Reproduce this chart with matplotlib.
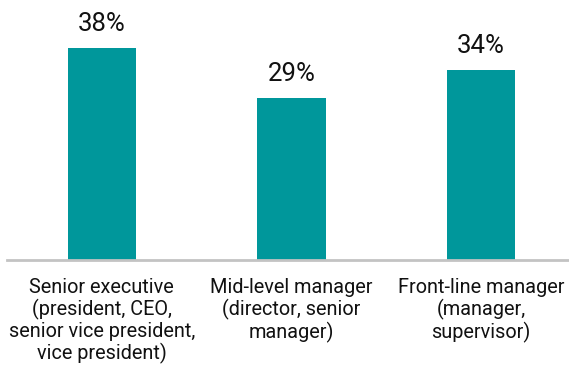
import matplotlib.pyplot as plt

categories = [
    "Senior executive\n(president, CEO,\nsenior vice president,\nvice president)",
    "Mid-level manager\n(director, senior\nmanager)",
    "Front-line manager\n(manager,\nsupervisor)",
]
values = [38, 29, 34]

plt.rcParams['font.family'] = ['Roboto', 'DejaVu Sans']

fig = plt.figure(figsize=(5.69, 3.69), dpi=100)
ax = fig.add_axes([7 / 569, 109 / 369, 562 / 569, 223 / 369])

x = range(len(values))
bars = ax.bar(x, values, width=0.36, color='#00979b', zorder=2)

# value labels above each bar
for b, v in zip(bars, values):
    ax.text(b.get_x() + b.get_width() / 2, v + 2.2, f"{v}%",
            ha='center', va='bottom', fontsize=18.5, color='#111111')

ax.set_xlim(-0.5, 2.464)
ax.set_ylim(0, 40)

for side in ['top', 'right', 'left']:
    ax.spines[side].set_visible(False)
ax.spines['bottom'].set_color('#c3c3c3')
ax.spines['bottom'].set_linewidth(2)

ax.set_yticks([])
ax.set_xticks(list(x))
ax.set_xticklabels(categories, fontsize=14.3, color='#111111', linespacing=1.12)
ax.tick_params(axis='x', length=0, pad=13)

fig.savefig('out.png', dpi=100)
